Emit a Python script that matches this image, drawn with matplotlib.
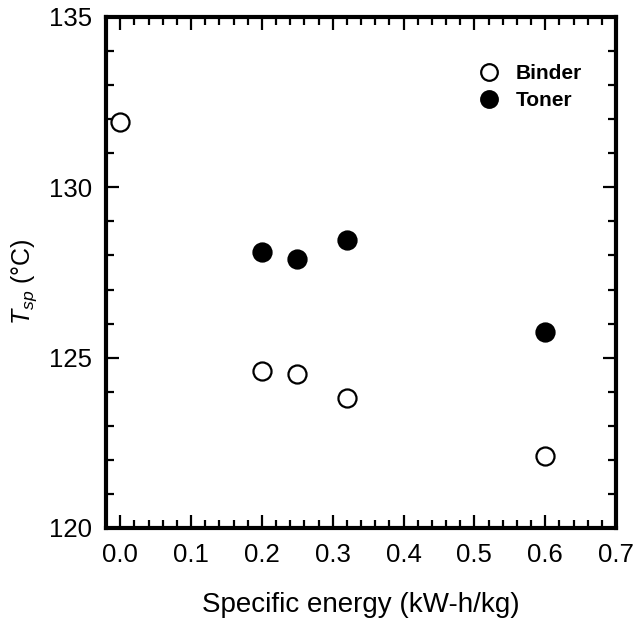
import matplotlib
matplotlib.use("Agg")
import matplotlib.pyplot as plt
from matplotlib.ticker import MultipleLocator

plt.rcParams['font.family'] = ['Liberation Sans', 'DejaVu Sans']
plt.rcParams['mathtext.fontset'] = 'custom'
plt.rcParams['mathtext.rm'] = 'Liberation Sans'
plt.rcParams['mathtext.it'] = 'Liberation Sans:italic'

# Softening-point temperature vs specific mixing energy
binder_energy = [0.0, 0.2, 0.25, 0.32, 0.6]
binder_tsp = [131.92, 124.61, 124.52, 123.82, 122.1]
toner_energy = [0.2, 0.25, 0.32, 0.6]
toner_tsp = [128.1, 127.9, 128.45, 125.76]

x_ticks = [0.0, 0.1, 0.2, 0.3, 0.4, 0.5, 0.6, 0.7]
y_ticks = [120, 125, 130, 135]

fig = plt.figure(figsize=(6.36, 6.2), dpi=100)
ax = fig.add_axes([0.1667, 0.1484, 0.8019, 0.8242])

ax.plot(binder_energy, binder_tsp, 'o', ls='none', ms=13, mfc='white',
        mec='black', mew=1.6, label='Binder', clip_on=False)
ax.plot(toner_energy, toner_tsp, 'o', ls='none', ms=13, mfc='black',
        mec='black', mew=1.6, label='Toner', clip_on=False)

ax.set_xlim(-0.02, 0.70)
ax.set_ylim(120, 135)
ax.set_xticks(x_ticks)
ax.set_xticklabels([f"{v:.1f}" for v in x_ticks])
ax.set_yticks(y_ticks)
ax.xaxis.set_minor_locator(MultipleLocator(0.02))
ax.yaxis.set_minor_locator(MultipleLocator(1))

for s in ax.spines.values():
    s.set_linewidth(3)

ax.tick_params(which='both', direction='in', top=True, right=True,
               labelsize=18.5, width=1.6)
ax.tick_params(which='major', length=9.5)
ax.tick_params(which='minor', length=5.5)
ax.tick_params(axis='x', which='major', pad=11)
ax.tick_params(axis='y', which='major', pad=10)

ax.set_xlabel('Specific energy (kW-h/kg)', fontsize=20, labelpad=18)
ylab = ax.set_ylabel(r'$T_{sp}$ (°C)', fontsize=18)
ylab.set_verticalalignment('center')
ax.yaxis.set_label_coords(-0.161, 0.483)

leg = ax.legend(loc='upper right', bbox_to_anchor=(0.97, 0.945), frameon=False,
                prop={'weight': 'bold', 'size': 15}, handletextpad=0.8,
                labelspacing=0.4, handlelength=1.0, markerscale=0.92)

fig.savefig('out.png', dpi=100)
